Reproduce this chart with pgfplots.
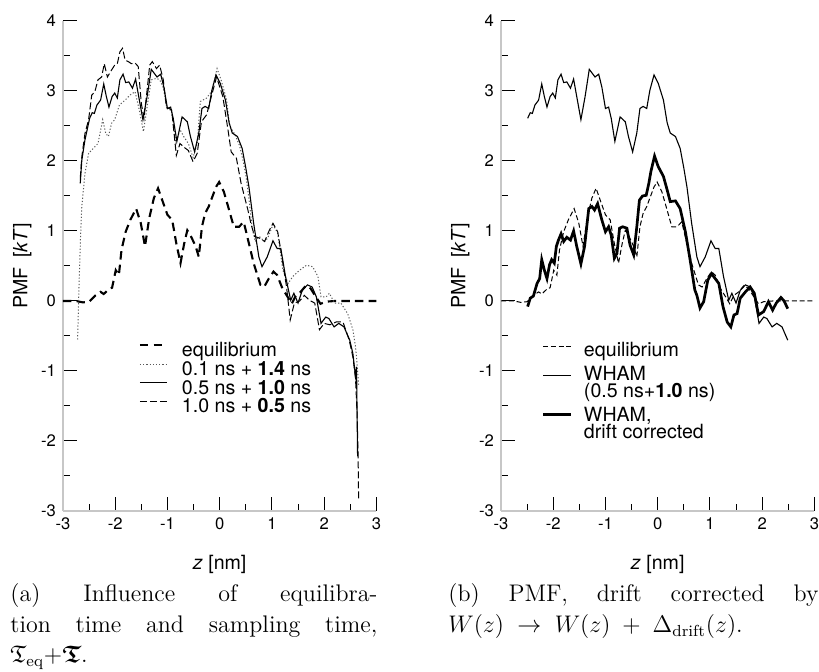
\documentclass[border=0pt]{standalone}
\usepackage{amsmath,amssymb}
\usepackage{fontspec}
\setsansfont{TeX Gyre Heros}
\usepackage{pgfplots}
\pgfplotsset{compat=1.18}
\newcommand{\lfont}{\sffamily\fontsize{9.8}{11}\selectfont}
\pgfplotsset{
  pmf/.style={
    scale only axis, width=156.7pt, height=245pt,
    xmin=-3, xmax=3, ymin=-3, ymax=4,
    axis x line=bottom, axis y line=left,
    axis line style={-, draw=black!22, line width=0.7pt},
    tick align=inside,
    major tick length=7pt, minor tick length=3.5pt,
    every tick/.style={black, line width=0.5pt},
    xtick={-3,-2,-1,0,1,2,3}, xticklabels={-3,-2,-1,0,1,2,3},
    minor xtick={-2.5,-1.5,-0.5,0.5,1.5,2.5},
    ytick={-3,-2,-1,0,1,2,3,4}, yticklabels={-3,-2,-1,0,1,2,3,4},
    minor ytick={-2.5,-1.5,-0.5,0.5,1.5,2.5,3.5},
    tick label style={font=\sffamily\fontsize{8.3}{9}\selectfont},
    xlabel={\textit{z} [nm]}, ylabel={PMF\enspace[\textit{kT}]},
    label style={font=\lfont},
    xlabel style={at={(axis description cs:0.5,-0.110)}, anchor=center},
    ylabel style={at={(axis description cs:-0.13,0.5)}, anchor=center},
    legend cell align=left,
    legend style={draw=none, fill=none, inner sep=0pt, outer sep=0pt,
      row sep=0pt, font=\lfont, anchor=north west,
      nodes={inner sep=0pt, outer sep=0pt}},
    clip=false,
  },
  limg/.style={legend image code/.code={%
      \draw[##1,overlay] (0pt,#1) -- (13.5pt,#1);
      \path[draw=none,fill=none] (0pt,0pt) -- (13.5pt,0pt);}},
  rimg/.style={legend image code/.code={%
      \draw[##1,overlay] (0pt,#1) -- (14pt,#1);
      \path[draw=none,fill=none] (0pt,0pt) -- (14pt,0pt);}},
  blankimg/.style={legend image code/.code={%
      \path[draw=none,fill=none] (0pt,0pt) -- (14pt,0pt);}},
}
\newcommand{\lstrut}{\rule[-3.5pt]{0pt}{11.35pt}}
\begin{document}
\begin{tikzpicture}
\path[use as bounding box] (0pt,0pt) rectangle (409.5pt,336pt);

% ---------------- left panel ----------------
\begin{axis}[pmf, at={(31.5pt,80.5pt)}, anchor=south west,
  legend style={at={(axis description cs:0.2457,0.3469)},
    /tikz/every odd column/.append style={column sep=7.5pt}}]
\addplot[black, line width=1.05pt, dash pattern=on 4.2pt off 2.6pt, limg=2.5pt] coordinates {
(-3.00,0.00) (-2.75,0.00) (-2.62,-0.02) (-2.50,-0.01) (-2.38,0.08) (-2.28,0.13) (-2.22,0.10) (-2.12,0.17) (-2.06,0.19) (-1.99,0.44) (-1.93,0.37) (-1.88,0.73) (-1.80,0.99) (-1.71,1.16) (-1.60,1.32) (-1.51,1.11) (-1.43,0.78) (-1.35,1.18) (-1.26,1.47) (-1.18,1.61) (-1.10,1.44) (-1.00,1.23) (-0.91,1.16) (-0.83,0.82) (-0.75,0.54) (-0.68,0.82) (-0.62,1.01) (-0.56,0.94) (-0.46,0.78) (-0.40,0.63) (-0.34,1.06) (-0.28,1.25) (-0.21,1.35) (-0.15,1.47) (-0.07,1.63) (-0.01,1.70) (0.08,1.56) (0.18,1.30) (0.27,1.06) (0.37,1.06) (0.46,1.13) (0.56,0.82) (0.65,0.54) (0.78,0.23) (0.85,0.20) (0.94,0.32) (1.03,0.42) (1.10,0.37) (1.20,0.18) (1.30,0.06) (1.38,-0.04) (1.46,0.08) (1.55,0.13) (1.65,0.22) (1.74,0.18) (1.84,0.06) (1.93,-0.04) (2.03,-0.01) (2.20,0.00) (3.00,0.00)};
\addlegendentry{\lstrut equilibrium}
\addplot[black!65, line width=0.5pt, dash pattern=on 0.6pt off 1pt, limg=2.5pt] coordinates {
(-2.72,-0.55) (-2.69,0.30) (-2.66,1.00) (-2.64,1.35) (-2.58,1.82) (-2.51,2.11) (-2.42,2.18) (-2.33,2.25) (-2.24,2.59) (-2.18,2.39) (-2.13,2.35) (-2.07,2.54) (-2.01,2.59) (-1.92,2.80) (-1.81,2.87) (-1.72,2.94) (-1.62,2.99) (-1.54,2.73) (-1.46,2.42) (-1.39,2.77) (-1.31,3.16) (-1.21,3.18) (-1.15,3.16) (-1.08,3.05) (-1.01,2.75) (-0.92,2.72) (-0.84,2.25) (-0.76,2.45) (-0.69,2.35) (-0.60,2.25) (-0.51,2.05) (-0.43,2.25) (-0.37,2.85) (-0.25,2.90) (-0.15,3.00) (-0.05,3.32) (0.03,3.15) (0.13,2.88) (0.19,2.50) (0.29,2.38) (0.38,2.22) (0.45,2.00) (0.51,1.75) (0.57,1.40) (0.62,1.05) (0.68,0.85) (0.76,0.92) (0.86,0.85) (0.92,0.90) (1.02,1.09) (1.11,0.97) (1.21,0.44) (1.31,0.25) (1.40,0.35) (1.53,0.44) (1.66,0.51) (1.78,0.49) (1.88,0.35) (1.94,0.06) (2.04,0.06) (2.10,0.11) (2.20,-0.03) (2.32,-0.03) (2.45,-0.18) (2.55,-0.41) (2.60,-0.65) (2.63,-0.90) (2.66,-1.20)};
\addlegendentry{\lstrut 0.1 ns + \textbf{1.4} ns}
\addplot[black, line width=0.55pt, limg=2.5pt] coordinates {
(-2.67,1.68) (-2.64,2.01) (-2.58,2.30) (-2.49,2.61) (-2.44,2.69) (-2.40,2.68) (-2.35,2.80) (-2.28,2.87) (-2.22,3.10) (-2.17,2.92) (-2.12,2.77) (-2.06,2.92) (-2.01,2.97) (-1.96,2.90) (-1.91,3.16) (-1.85,3.24) (-1.80,3.12) (-1.74,3.13) (-1.67,3.04) (-1.61,3.17) (-1.55,2.92) (-1.47,2.59) (-1.39,2.92) (-1.31,3.31) (-1.25,3.25) (-1.20,3.20) (-1.13,3.24) (-1.07,3.06) (-1.00,2.75) (-0.94,2.77) (-0.89,2.61) (-0.82,2.28) (-0.72,2.63) (-0.62,2.56) (-0.56,2.35) (-0.48,2.13) (-0.40,2.40) (-0.34,2.75) (-0.28,2.78) (-0.21,2.75) (-0.15,3.01) (-0.07,3.23) (0.01,3.11) (0.11,2.87) (0.18,2.55) (0.24,2.40) (0.34,2.35) (0.43,2.18) (0.50,1.90) (0.56,1.63) (0.65,1.11) (0.75,0.63) (0.81,0.49) (0.91,0.63) (1.02,0.86) (1.10,0.75) (1.17,0.75) (1.26,0.35) (1.36,0.01) (1.42,0.11) (1.50,-0.03) (1.58,0.15) (1.68,0.23) (1.77,0.20) (1.85,0.06) (1.94,-0.32) (2.03,-0.23) (2.09,-0.25) (2.19,-0.37) (2.28,-0.32) (2.38,-0.37) (2.49,-0.56) (2.55,-0.75) (2.60,-1.08) (2.62,-0.94) (2.64,-2.22)};
\addlegendentry{\lstrut 0.5 ns + \textbf{1.0} ns}
\addplot[black, line width=0.5pt, dash pattern=on 3.5pt off 1.5pt, limg=2.5pt] coordinates {
(-2.67,1.75) (-2.64,2.06) (-2.58,2.39) (-2.51,2.59) (-2.45,2.94) (-2.39,2.99) (-2.33,3.16) (-2.26,3.20) (-2.21,3.39) (-2.15,3.20) (-2.07,3.30) (-2.01,3.37) (-1.96,3.39) (-1.91,3.56) (-1.86,3.61) (-1.81,3.44) (-1.75,3.42) (-1.69,3.39) (-1.62,3.40) (-1.56,3.35) (-1.50,2.82) (-1.45,2.61) (-1.39,3.01) (-1.34,3.37) (-1.29,3.42) (-1.21,3.32) (-1.15,3.37) (-1.08,3.16) (-1.02,2.77) (-0.92,2.73) (-0.83,2.08) (-0.76,2.25) (-0.69,2.20) (-0.60,2.15) (-0.51,1.99) (-0.43,2.11) (-0.35,2.56) (-0.25,2.66) (-0.16,2.92) (-0.06,3.20) (0.06,2.92) (0.16,2.44) (0.22,2.13) (0.32,2.04) (0.41,1.68) (0.54,1.30) (0.60,1.10) (0.67,0.92) (0.76,0.90) (0.86,0.85) (0.95,1.01) (1.02,1.11) (1.11,0.99) (1.18,0.68) (1.28,0.20) (1.35,-0.27) (1.43,-0.03) (1.53,0.00) (1.62,0.08) (1.72,0.01) (1.82,-0.03) (1.91,-0.41) (2.00,-0.32) (2.11,-0.34) (2.23,-0.30) (2.36,-0.30) (2.48,-0.56) (2.55,-0.80) (2.60,-1.10) (2.63,-1.60) (2.65,-2.20) (2.66,-2.85)};
\addlegendentry{\lstrut 1.0 ns + \textbf{0.5} ns}
\end{axis}

% ---------------- right panel ----------------
\begin{axis}[pmf, at={(250.5pt,80.5pt)}, anchor=south west,
  legend style={at={(axis description cs:0.134,0.3455)},
    /tikz/every odd column/.append style={column sep=6.5pt}}]
\addplot[black, line width=0.5pt, dash pattern=on 2.5pt off 1.4pt, rimg=2pt] coordinates {
(-3.00,0.00) (-2.75,0.00) (-2.62,-0.02) (-2.50,-0.01) (-2.38,0.08) (-2.28,0.13) (-2.22,0.10) (-2.12,0.17) (-2.06,0.19) (-1.99,0.44) (-1.93,0.37) (-1.88,0.73) (-1.80,0.99) (-1.71,1.16) (-1.60,1.32) (-1.51,1.11) (-1.43,0.78) (-1.35,1.18) (-1.26,1.47) (-1.18,1.61) (-1.10,1.44) (-1.00,1.23) (-0.91,1.16) (-0.83,0.82) (-0.75,0.54) (-0.68,0.82) (-0.62,1.01) (-0.56,0.94) (-0.46,0.78) (-0.40,0.63) (-0.34,1.06) (-0.28,1.25) (-0.21,1.35) (-0.15,1.47) (-0.07,1.63) (-0.01,1.70) (0.08,1.56) (0.18,1.30) (0.27,1.06) (0.37,1.06) (0.46,1.13) (0.56,0.82) (0.65,0.54) (0.78,0.23) (0.85,0.20) (0.94,0.32) (1.03,0.42) (1.10,0.37) (1.20,0.18) (1.30,0.06) (1.38,-0.04) (1.46,0.08) (1.55,0.13) (1.65,0.22) (1.74,0.18) (1.84,0.06) (1.93,-0.04) (2.03,-0.01) (2.20,0.00) (3.00,0.00)};
\addlegendentry{\rule[-3pt]{0pt}{10.5pt}equilibrium}
\addplot[black, line width=0.55pt, rimg=-1.85pt] coordinates {
(-2.49,2.61) (-2.44,2.69) (-2.40,2.68) (-2.35,2.80) (-2.28,2.87) (-2.22,3.10) (-2.17,2.92) (-2.12,2.77) (-2.06,2.92) (-2.01,2.97) (-1.96,2.90) (-1.91,3.16) (-1.85,3.24) (-1.80,3.12) (-1.74,3.13) (-1.67,3.04) (-1.61,3.17) (-1.55,2.92) (-1.47,2.59) (-1.39,2.92) (-1.31,3.31) (-1.25,3.25) (-1.20,3.20) (-1.13,3.24) (-1.07,3.06) (-1.00,2.75) (-0.94,2.77) (-0.89,2.61) (-0.82,2.28) (-0.72,2.63) (-0.62,2.56) (-0.56,2.35) (-0.48,2.13) (-0.40,2.40) (-0.34,2.75) (-0.28,2.78) (-0.21,2.75) (-0.15,3.01) (-0.07,3.23) (0.01,3.11) (0.11,2.87) (0.18,2.55) (0.24,2.40) (0.34,2.35) (0.43,2.18) (0.50,1.90) (0.56,1.63) (0.65,1.11) (0.75,0.63) (0.81,0.49) (0.91,0.63) (1.02,0.86) (1.10,0.75) (1.17,0.75) (1.26,0.35) (1.36,0.01) (1.42,0.11) (1.50,-0.03) (1.58,0.15) (1.68,0.23) (1.77,0.20) (1.85,0.06) (1.94,-0.32) (2.03,-0.23) (2.09,-0.25) (2.19,-0.37) (2.28,-0.32) (2.38,-0.37) (2.49,-0.56)};
\addlegendentry{\rule[-2pt]{0pt}{12.2pt}WHAM}
\addlegendimage{blankimg}
\addlegendentry{\rule[-3pt]{0pt}{10.3pt}(0.5 ns+\textbf{1.0} ns)}
\addplot[black, line width=1.35pt, rimg=-1.15pt] coordinates {
(-2.49,-0.08) (-2.44,0.04) (-2.38,0.07) (-2.31,0.25) (-2.26,0.32) (-2.22,0.59) (-2.17,0.44) (-2.12,0.32) (-2.07,0.52) (-2.03,0.59) (-1.98,0.54) (-1.94,0.78) (-1.90,0.87) (-1.85,0.96) (-1.80,0.85) (-1.74,0.91) (-1.67,0.87) (-1.61,1.00) (-1.55,0.78) (-1.47,0.53) (-1.40,0.78) (-1.32,1.32) (-1.26,1.35) (-1.21,1.30) (-1.15,1.39) (-1.07,1.16) (-1.00,0.99) (-0.94,1.06) (-0.89,0.94) (-0.83,0.61) (-0.78,0.68) (-0.73,1.04) (-0.67,1.06) (-0.59,1.04) (-0.53,0.80) (-0.46,0.66) (-0.40,1.06) (-0.35,1.44) (-0.29,1.50) (-0.22,1.51) (-0.17,1.68) (-0.13,1.85) (-0.06,2.07) (0.01,1.92) (0.11,1.78) (0.18,1.59) (0.24,1.42) (0.34,1.43) (0.43,1.32) (0.53,0.99) (0.62,0.59) (0.71,0.16) (0.75,0.08) (0.81,-0.10) (0.88,-0.01) (0.96,0.30) (1.03,0.39) (1.10,0.32) (1.17,0.25) (1.25,-0.08) (1.33,-0.30) (1.40,-0.37) (1.46,-0.20) (1.52,-0.18) (1.58,0.04) (1.68,0.13) (1.77,0.20) (1.85,0.11) (1.93,-0.20) (2.03,-0.15) (2.12,-0.01) (2.20,-0.13) (2.27,-0.03) (2.36,0.05) (2.42,0.00) (2.49,-0.11)};
\addlegendentry{\rule[-2.2pt]{0pt}{12.4pt}WHAM,}
\addlegendimage{blankimg}
\addlegendentry{\rule[-3pt]{0pt}{10.3pt}drift corrected}
\end{axis}

% ---------------- captions ----------------
\tolerance=10000
\node[anchor=base west, inner sep=0pt, text width=183.5pt, align=justify,
  font=\fontsize{12}{15.25}\selectfont] at (5pt,35pt)
  {(a) Influence of equilibra-\linebreak tion time and sampling time,\linebreak
   $\mathfrak{T}_{\mathrm{eq}}{+}\boldsymbol{\mathfrak{T}}$.};
\node[anchor=base west, inner sep=0pt, text width=185pt, align=justify,
  font=\fontsize{12}{15.25}\selectfont] at (224pt,35pt)
  {(b) PMF, drift corrected by\linebreak
   $W(z)\;\rightarrow\;W(z)\;+\;\Delta_{\mathrm{drift}}(z)$.};
\end{tikzpicture}
\end{document}
